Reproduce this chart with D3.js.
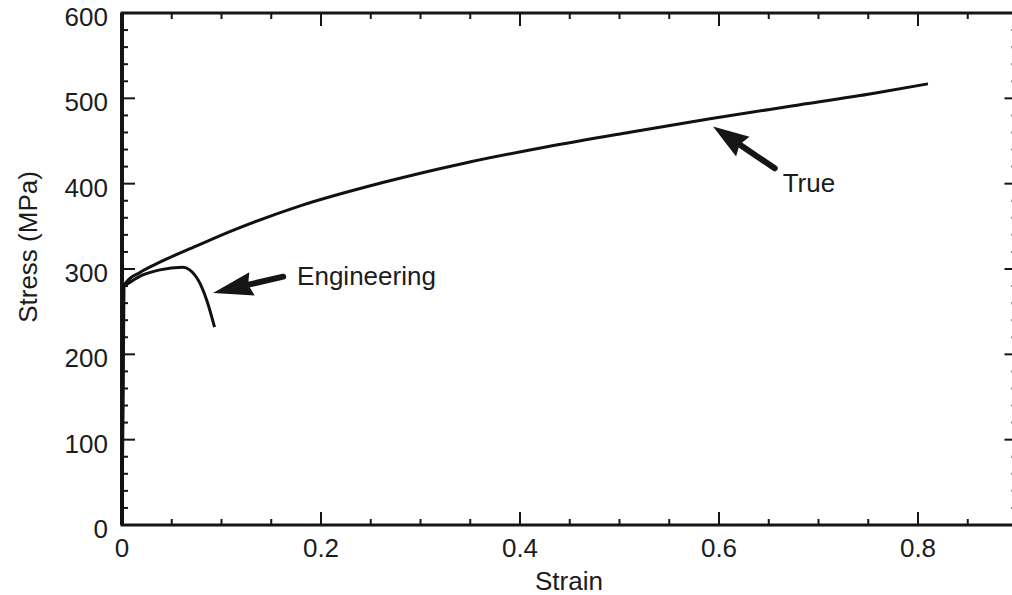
<!DOCTYPE html>
<html>
<head>
<meta charset="utf-8">
<script src="https://cdn.jsdelivr.net/npm/d3@7"></script>
<style>
  body { margin: 0; background: #fff; }
  text { font-family: "Liberation Sans", Arial, Helvetica, sans-serif; fill: #1c1c1c; }
</style>
</head>
<body>
<svg id="chart" width="1012" height="595"></svg>
<script>
// strain / stress
var trueStrain = [0, 0.002, 0.004, 0.018, 0.038, 0.075, 0.109, 0.179, 0.261, 0.344, 0.426, 0.509, 0.591, 0.673, 0.756, 0.81];
var trueStress = [0, 280, 284, 296, 308, 327, 344, 374, 401, 424, 443, 460, 476, 491, 506, 517];

var engStrain = [0, 0.0015, 0.003, 0.021, 0.038, 0.061, 0.068, 0.078, 0.085, 0.093];
var engStress = [0, 280, 281, 293, 299, 302, 299, 284, 264, 232];

var xTicks = [0, 0.2, 0.4, 0.6, 0.8];
var yTicks = [0, 100, 200, 300, 400, 500, 600];

// arrows: [tipStrain, tipStress, tailStrain, tailStress]
var engArrow = [0.0915, 272, 0.162, 291];
var trueArrow = [0.594, 467, 0.656, 418];
var labels = [
  {text: "Engineering", strain: 0.176, stress: 281},
  {text: "True", strain: 0.664, stress: 390}
];

var svg = d3.select("#chart");
var fs = 26;

var x = d3.scaleLinear().domain([0, 0.9]).range([122, 1017.5]);
var y = d3.scaleLinear().domain([0, 600]).range([525, 13]);

var g = svg.append("g");

// frame
g.append("rect")
  .attr("x", x(0)).attr("y", y(600))
  .attr("width", x(0.9) - x(0)).attr("height", y(0) - y(600))
  .attr("fill", "none").attr("stroke", "#151515").attr("stroke-width", 3);
g.append("line")
  .attr("x1", x(0)).attr("x2", x(0)).attr("y1", y(0)).attr("y2", y(600))
  .attr("stroke", "#151515").attr("stroke-width", 4);

// ticks, all pointing inward
var minorX = d3.range(0, 0.9001, 0.05);
var minorY = d3.range(0, 600.1, 20);

function isMajor(v, step) { return Math.abs(v / step - Math.round(v / step)) < 1e-6; }

var tk = g.append("g").attr("stroke", "#151515").attr("stroke-width", 2);
minorX.forEach(function(v) {
  if (v === 0 || v > 0.89) return;
  var len = isMajor(v, 0.2) ? 13 : 6;
  tk.append("line").attr("x1", x(v)).attr("x2", x(v)).attr("y1", y(0)).attr("y2", y(0) - len);
  tk.append("line").attr("x1", x(v)).attr("x2", x(v)).attr("y1", y(600)).attr("y2", y(600) + len);
});
minorY.forEach(function(v) {
  if (v === 0 || v === 600) return;
  var len = isMajor(v, 100) ? 13 : 6;
  tk.append("line").attr("x1", x(0)).attr("x2", x(0) + len).attr("y1", y(v)).attr("y2", y(v));
  tk.append("line").attr("x1", x(0.9)).attr("x2", x(0.9) - len).attr("y1", y(v)).attr("y2", y(v));
});

// tick labels
g.selectAll(".xl").data(xTicks).enter().append("text")
  .attr("x", function(d) { return x(d); })
  .attr("y", y(0) + 32)
  .attr("text-anchor", "middle")
  .attr("font-size", fs)
  .text(function(d) { return d === 0 ? "0" : d3.format(".1f")(d); });

g.selectAll(".yl").data(yTicks).enter().append("text")
  .attr("x", 108)
  .attr("y", function(d) { return y(d) + 4; })
  .attr("dy", "0.35em")
  .attr("text-anchor", "end")
  .attr("font-size", fs)
  .text(function(d) { return d; });

// axis titles
g.append("text")
  .attr("x", 569).attr("y", 590)
  .attr("text-anchor", "middle").attr("font-size", fs)
  .text("Strain");
g.append("text")
  .attr("transform", "translate(37,247) rotate(-90)")
  .attr("text-anchor", "middle").attr("font-size", fs)
  .text("Stress (MPa)");

// curves
var line = d3.line()
  .x(function(d) { return x(d[0]); })
  .y(function(d) { return y(d[1]); })
  .curve(d3.curveMonotoneX);

g.append("path")
  .datum(d3.zip(trueStrain, trueStress))
  .attr("d", line)
  .attr("fill", "none").attr("stroke", "#111").attr("stroke-width", 3);

g.append("path")
  .datum(d3.zip(engStrain, engStress))
  .attr("d", line)
  .attr("fill", "none").attr("stroke", "#111").attr("stroke-width", 3);

// arrows
function drawArrow(a, headLen, headW, shaftW) {
  var tx = x(a[0]), ty = y(a[1]), ex = x(a[2]), ey = y(a[3]);
  var ang = Math.atan2(ey - ty, ex - tx);
  var ux = Math.cos(ang), uy = Math.sin(ang), px = -uy, py = ux;
  var bx = tx + ux * headLen, by = ty + uy * headLen;
  g.append("line")
    .attr("x1", bx - ux * 4).attr("y1", by - uy * 4)
    .attr("x2", ex).attr("y2", ey)
    .attr("stroke", "#151515").attr("stroke-width", shaftW)
    .attr("stroke-linecap", "round");
  var pts = [
    [tx, ty],
    [bx + ux * 4 + px * headW / 2, by + uy * 4 + py * headW / 2],
    [bx, by],
    [bx + ux * 4 - px * headW / 2, by + uy * 4 - py * headW / 2]
  ];
  g.append("path")
    .attr("d", "M" + pts.map(function(p) { return p.join(","); }).join("L") + "Z")
    .attr("fill", "#151515");
}
drawArrow(engArrow, 36, 24, 6);
drawArrow(trueArrow, 32, 24, 6);

g.selectAll(".lab").data(labels).enter().append("text")
  .attr("x", function(d) { return x(d.strain); })
  .attr("y", function(d) { return y(d.stress); })
  .attr("font-size", fs)
  .text(function(d) { return d.text; });
</script>
</body>
</html>
